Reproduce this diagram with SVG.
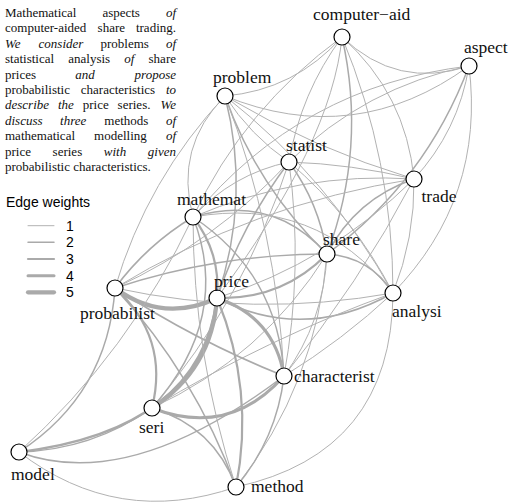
<svg xmlns="http://www.w3.org/2000/svg" width="510" height="502" viewBox="0 0 510 502">
<style>
.e{fill:none;stroke:#aaaaaa;stroke-linecap:round}
.w1{stroke-width:1;stroke:#b2b2b2}.w2{stroke-width:1.5}.w3{stroke-width:2.2}.w4{stroke-width:3}.w5{stroke-width:4.2}
.n circle{fill:#fff;stroke:#000;stroke-width:1.2}
.lbl{font-family:"Liberation Serif","Times New Roman",serif;font-size:17.5px;fill:#111}
.abs{font-family:"Liberation Serif","Times New Roman",serif;font-size:13px;fill:#111}
.i{font-style:italic}
.leg{font-family:"Liberation Sans",Arial,sans-serif;font-size:14px;fill:#000}
</style>
<rect width="510" height="502" fill="#fff"/>
<g id="abstract" class="abs">
<text y="17"><tspan x="5">Mathematical</tspan><tspan x="102.4">aspects</tspan><tspan x="176" text-anchor="end" class="i">of</tspan></text>
<text y="32.4"><tspan x="5">computer-aided</tspan><tspan x="97.6">share</tspan><tspan x="176" text-anchor="end">trading.</tspan></text>
<text y="47.8"><tspan x="5" class="i">We</tspan><tspan x="38.6" class="i">consider</tspan><tspan x="100.5">problems</tspan><tspan x="176" text-anchor="end" class="i">of</tspan></text>
<text y="63.2"><tspan x="5">statistical</tspan><tspan x="68.3">analysis</tspan><tspan x="124.3" class="i">of</tspan><tspan x="176" text-anchor="end">share</tspan></text>
<text y="78.6"><tspan x="5">prices</tspan><tspan x="75.3" class="i">and</tspan><tspan x="176" text-anchor="end" class="i">propose</tspan></text>
<text y="94"><tspan x="5">probabilistic</tspan><tspan x="80.8">characteristics</tspan><tspan x="176" text-anchor="end" class="i">to</tspan></text>
<text y="109.4"><tspan x="5" class="i">describe</tspan><tspan x="57.9" class="i">the</tspan><tspan x="82.7">price</tspan><tspan x="117.6">series.</tspan><tspan x="176" text-anchor="end" class="i">We</tspan></text>
<text y="124.8"><tspan x="5" class="i">discuss</tspan><tspan x="60.1" class="i">three</tspan><tspan x="104.3">methods</tspan><tspan x="176" text-anchor="end" class="i">of</tspan></text>
<text y="140.2"><tspan x="5">mathematical</tspan><tspan x="94.1">modelling</tspan><tspan x="176" text-anchor="end" class="i">of</tspan></text>
<text y="155.6"><tspan x="5">price</tspan><tspan x="52.6">series</tspan><tspan x="103.8" class="i">with</tspan><tspan x="176" text-anchor="end" class="i">given</tspan></text>
<text y="171" x="5">probabilistic characteristics.</text>
</g>
<g id="legend">
<text class="leg" x="6" y="207">Edge weights</text>
<line class="e w1" x1="28" y1="225.7" x2="54" y2="225.7"/>
<line class="e w2" x1="28" y1="242.3" x2="54" y2="242.3"/>
<line class="e w3" x1="28" y1="259" x2="54" y2="259"/>
<line class="e w4" x1="28" y1="275.7" x2="54" y2="275.7"/>
<line class="e w5" x1="28" y1="292.3" x2="54" y2="292.3"/>
<text class="leg" x="66" y="230.7">1</text>
<text class="leg" x="66" y="247.3">2</text>
<text class="leg" x="66" y="264">3</text>
<text class="leg" x="66" y="280.7">4</text>
<text class="leg" x="66" y="297.3">5</text>
</g>
<g id="connectors">
<path class="e w1" d="M193 217 Q301 86 469 66"/>
<path class="e w1" d="M193 217 Q244 108 342 37"/>
<path class="e w2" d="M193 217 Q272 193 327 254"/>
<path class="e w1" d="M193 217 Q299 171.5 414 179"/>
<path class="e w1" d="M193 217 Q174 147 225 96"/>
<path class="e w1" d="M193 217 Q232 174 289 162"/>
<path class="e w1" d="M193 217 Q316 195 393 293"/>
<path class="e w1" d="M469 66 Q397 90 342 37"/>
<path class="e w2" d="M469 66 Q426 181 327 254"/>
<path class="e w1" d="M469 66 Q458.5 131 414 179"/>
<path class="e w1" d="M469 66 Q355 149 225 96"/>
<path class="e w1" d="M469 66 Q365 87 289 162"/>
<path class="e w1" d="M469 66 Q485.5 198 393 293"/>
<path class="e w2" d="M342 37 Q367 148 327 254"/>
<path class="e w1" d="M342 37 Q406 94 414 179"/>
<path class="e w1" d="M342 37 Q295 90 225 96"/>
<path class="e w1" d="M342 37 Q300.5 93 289 162"/>
<path class="e w1" d="M342 37 Q393 160 393 293"/>
<path class="e w1" d="M342 37 Q332 142 217 298"/>
<path class="e w2" d="M327 254 Q355.5 199 414 179"/>
<path class="e w2" d="M327 254 Q257 187 225 96"/>
<path class="e w2" d="M327 254 Q319 203 289 162"/>
<path class="e w2" d="M327 254 Q370 257 393 293"/>
<path class="e w3" d="M327 254 Q282 300 217 298"/>
<path class="e w2" d="M327 254 Q218 254 115 288"/>
<path class="e w1" d="M327 254 Q324 321.5 284 376"/>
<path class="e w1" d="M327 254 Q262.6 357 152 408"/>
<path class="e w1" d="M327 254 Q316.5 384 236 487"/>
<path class="e w1" d="M414 179 Q314.5 149 225 96"/>
<path class="e w1" d="M414 179 Q352 164 289 162"/>
<path class="e w1" d="M414 179 Q415 238 393 293"/>
<path class="e w1" d="M414 179 Q330 262 217 298"/>
<path class="e w1" d="M414 179 Q253.6 203.6 115 288"/>
<path class="e w1" d="M414 179 Q359 284 284 376"/>
<path class="e w1" d="M225 96 Q250 135 289 162"/>
<path class="e w1" d="M225 96 Q329 178 393 293"/>
<path class="e w2" d="M225 96 Q251 198 217 298"/>
<path class="e w1" d="M225 96 Q147 179 115 288"/>
<path class="e w1" d="M225 96 Q277 231 284 376"/>
<path class="e w1" d="M289 162 Q354 217 393 293"/>
<path class="e w2" d="M289 162 Q242 224 217 298"/>
<path class="e w1" d="M289 162 Q214.6 242.4 115 288"/>
<path class="e w1" d="M289 162 Q303.6 269 284 376"/>
<path class="e w1" d="M289 162 Q245 299 152 408"/>
<path class="e w2" d="M393 293 Q303.6 343 217 298"/>
<path class="e w1" d="M393 293 Q253.5 318 115 288"/>
<path class="e w1" d="M393 293 Q342.7 340 284 376"/>
<path class="e w1" d="M393 293 Q266.8 338.5 152 408"/>
<path class="e w1" d="M393 293 Q392 453 236 487"/>
<path class="e w5" d="M217 298 Q163 323.6 115 288"/>
<path class="e w4" d="M217 298 Q274 317 284 376"/>
<path class="e w5" d="M217 298 Q212 369 152 408"/>
<path class="e w3" d="M217 298 Q255 390 236 487"/>
<path class="e w3" d="M217 298 Q221 253 193 217"/>
<path class="e w3" d="M217 298 Q200 430 19 452"/>
<path class="e w2" d="M115 288 Q195 340.5 284 376"/>
<path class="e w3" d="M115 288 Q169.5 337 152 408"/>
<path class="e w2" d="M115 288 Q195.4 375.4 236 487"/>
<path class="e w2" d="M115 288 Q147 244.7 193 217"/>
<path class="e w2" d="M115 288 Q108 394 19 452"/>
<path class="e w4" d="M284 376 Q229 438 152 408"/>
<path class="e w2" d="M284 376 Q276.7 438.7 236 487"/>
<path class="e w2" d="M284 376 Q278.3 273.7 193 217"/>
<path class="e w2" d="M284 376 Q128.7 493.5 19 452"/>
<path class="e w2" d="M152 408 Q213.75 426.5 236 487"/>
<path class="e w2" d="M152 408 Q232 318 193 217"/>
<path class="e w2" d="M152 408 Q92 450 19 452"/>
<path class="e w1" d="M236 487 Q193 355 193 217"/>
<path class="e w1" d="M236 487 Q118 528 19 452"/>
<path class="e w1" d="M193 217 Q129.5 352 19 452"/>
</g>
<g id="n-computer-aid" class="n"><circle cx="342" cy="37" r="8"/><text class="lbl" x="313" y="20">computer−aid</text></g>
<g id="n-aspect" class="n"><circle cx="469" cy="66" r="8"/><text class="lbl" x="464" y="52.5">aspect</text></g>
<g id="n-problem" class="n"><circle cx="225" cy="96" r="8"/><text class="lbl" x="213" y="82.7">problem</text></g>
<g id="n-statist" class="n"><circle cx="289" cy="162" r="8"/><text class="lbl" x="286" y="150.5">statist</text></g>
<g id="n-trade" class="n"><circle cx="414" cy="179" r="8"/><text class="lbl" x="421.5" y="201.7">trade</text></g>
<g id="n-mathemat" class="n"><circle cx="193" cy="217" r="8"/><text class="lbl" x="177" y="205">mathemat</text></g>
<g id="n-share" class="n"><circle cx="327" cy="254" r="8"/><text class="lbl" x="323" y="245">share</text></g>
<g id="n-probabilist" class="n"><circle cx="115" cy="288" r="8"/><text class="lbl" x="80" y="319.3">probabilist</text></g>
<g id="n-price" class="n"><circle cx="217" cy="298" r="8"/><text class="lbl" x="214" y="286.7">price</text></g>
<g id="n-analysi" class="n"><circle cx="393" cy="293" r="8"/><text class="lbl" x="392" y="316.7">analysi</text></g>
<g id="n-characterist" class="n"><circle cx="284" cy="376" r="8"/><text class="lbl" x="294" y="381.7">characterist</text></g>
<g id="n-seri" class="n"><circle cx="152" cy="408" r="8"/><text class="lbl" x="139" y="432.7">seri</text></g>
<g id="n-model" class="n"><circle cx="19" cy="452" r="8"/><text class="lbl" x="11" y="480">model</text></g>
<g id="n-method" class="n"><circle cx="236" cy="487" r="8"/><text class="lbl" x="251" y="492.3">method</text></g>
</svg>
